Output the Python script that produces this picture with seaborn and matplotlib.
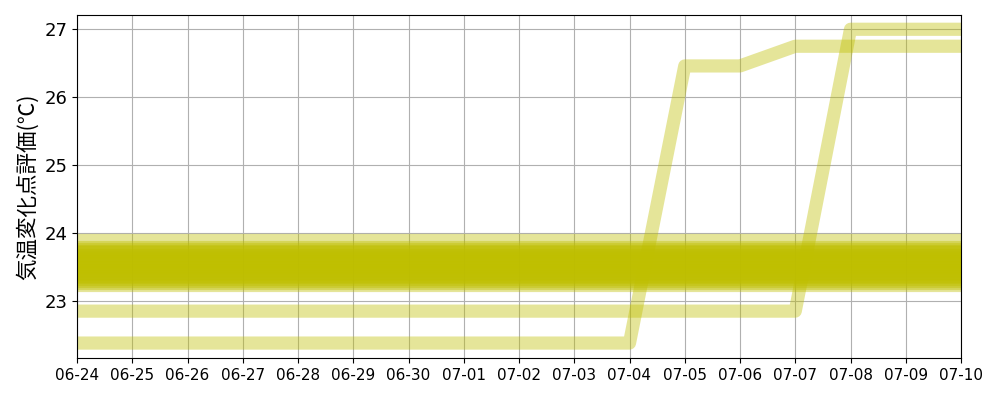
import pandas as pd
import seaborn as sns
import matplotlib.pyplot as plt
import matplotlib.dates as mdates

plt.rcParams['font.family'] = ['DejaVu Sans', 'Noto Sans CJK JP']

# 日付 (2024-06-24 ～ 2024-07-10)
dates = pd.date_range("2024-06-24", "2024-07-10", freq="D")

# ほぼ一定の地点の評価値
flat_values = [23.90, 23.79, 23.77, 23.74, 23.72, 23.70, 23.68, 23.66, 23.63,
               23.61, 23.59, 23.57, 23.55, 23.52, 23.50, 23.48, 23.46, 23.44,
               23.41, 23.39, 23.37, 23.35, 23.32, 23.30, 23.27, 23.23]

# 変化した地点
rise_a = [22.38, 22.38, 22.38, 22.38, 22.38, 22.38, 22.38, 22.38, 22.38,
          22.38, 22.38, 26.46, 26.46, 26.75, 26.75, 26.75, 26.75]
rise_b = [22.85, 22.85, 22.85, 22.85, 22.85, 22.85, 22.85, 22.85, 22.85,
          22.85, 22.85, 22.85, 22.85, 22.85, 27.00, 27.00, 27.00]

series = [[v] * len(dates) for v in flat_values] + [rise_a, rise_b]
rows = []
for i, vals in enumerate(series):
    for d, v in zip(dates, vals):
        rows.append({"id": i, "date": d, "value": v})
df = pd.DataFrame(rows)

fig, ax = plt.subplots(figsize=(10, 4), dpi=100)
sns.lineplot(data=df, x="date", y="value", units="id", estimator=None,
             color="y", alpha=0.4, linewidth=9.5, ax=ax)

ax.set_xlim(dates[0], dates[-1])
ax.set_ylim(22.16, 27.21)
ax.xaxis.set_major_locator(mdates.DayLocator())
ax.xaxis.set_major_formatter(mdates.DateFormatter("%m-%d"))
ax.tick_params(axis="x", labelsize=11)
ax.tick_params(axis="y", labelsize=13)
ax.set_xlabel("")
ax.set_ylabel("気温変化点評価(℃)", fontsize=15.5, family=['Noto Sans CJK JP'])
ax.grid(True)

fig.subplots_adjust(left=0.077, right=0.961, top=0.9625, bottom=0.105)
fig.savefig("out.png")
